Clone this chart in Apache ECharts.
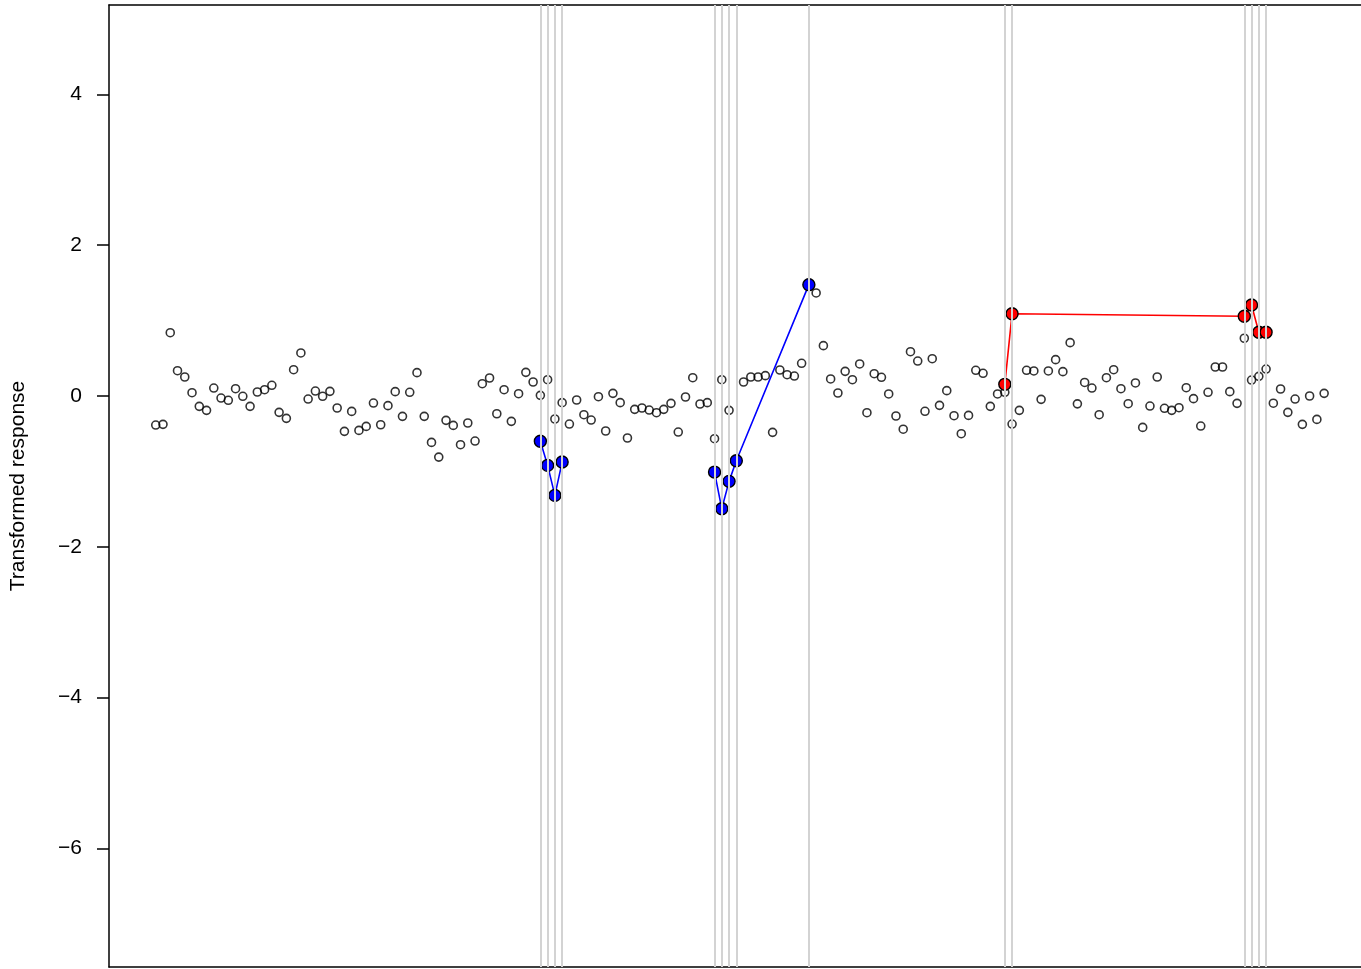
<!DOCTYPE html>
<html>
<head>
<meta charset="utf-8">
<script src="https://cdn.jsdelivr.net/npm/echarts@6/dist/echarts.min.js"></script>
<style>
html,body{margin:0;padding:0;background:#fff;}
#chart{width:1361px;height:969px;}
</style>
</head>
<body>
<div id="chart"></div>
<script>
// Transformed response for each observation index 1..162 (open black circles)
const responseValues = [
 -0.385,-0.376,0.84,0.336,0.252,0.044,-0.137,-0.19,0.106,-0.027,
 -0.057,0.097,-0.004,-0.137,0.053,0.084,0.142,-0.217,-0.296,0.349,
 0.571,-0.04,0.066,-0.004,0.062,-0.159,-0.469,-0.204,-0.456,-0.403,
 -0.093,-0.381,-0.128,0.058,-0.27,0.049,0.31,-0.27,-0.615,-0.81,
 -0.323,-0.39,-0.646,-0.358,-0.597,0.163,0.239,-0.235,0.084,-0.336,
 0.031,0.314,0.186,0.009,0.216,-0.305,-0.088,-0.372,-0.053,-0.248,
 -0.319,-0.009,-0.464,0.035,-0.088,-0.557,-0.177,-0.159,-0.186,-0.221,
 -0.177,-0.097,-0.478,-0.013,0.243,-0.106,-0.088,-0.566,0.216,-0.19,
 -0.859,0.186,0.252,0.252,0.27,-0.482,0.345,0.283,0.265,0.434,
 1.496,1.367,0.668,0.226,0.04,0.327,0.216,0.425,-0.221,0.296,
 0.248,0.027,-0.265,-0.44,0.588,0.464,-0.203,0.495,-0.124,0.071,
 -0.261,-0.5,-0.257,0.341,0.301,-0.137,0.027,0.049,-0.372,-0.19,
 0.341,0.332,-0.044,0.332,0.482,0.323,0.708,-0.104,0.18,0.106,
 -0.248,0.243,0.349,0.097,-0.102,0.173,-0.416,-0.133,0.252,-0.163,
 -0.19,-0.155,0.11,-0.035,-0.398,0.049,0.385,0.385,0.058,-0.097,
 0.766,0.212,0.261,0.358,-0.095,0.093,-0.217,-0.04,-0.376,0.0,
 -0.31,0.035
];

// Blue highlighted observations (two connected runs)
const blueRun1Index = [54, 55, 56, 57];
const blueRun1Value = [-0.60, -0.92, -1.318, -0.876];
const blueRun2Index = [78, 79, 80, 81, 91];
const blueRun2Value = [-1.009, -1.496, -1.132, -0.859, 1.477];

// Red highlighted observations (one connected run)
const redIndex = [118, 119, 151, 152, 153, 154];
const redValue = [0.155, 1.092, 1.057, 1.208, 0.845, 0.845];

// Grey vertical reference lines
const refLineIndex = [54, 55, 56, 57, 78, 79, 80, 81, 91, 118, 119, 151, 152, 153, 154];

// Y tick labels
const yTicks = [-6, -4, -2, 0, 2, 4];
const yLabel = 'Transformed response';

const FONT = 'Liberation Sans, Arial, Helvetica, sans-serif';

const blackPts = responseValues.map((v, i) => [i + 1, v]);
const pair = (xs, ys) => xs.map((x, i) => [x, ys[i]]);

const filledSym = (c) => ({
  type: 'line',
  symbol: 'circle',
  symbolSize: 12,
  showSymbol: true,
  itemStyle: { color: c, borderColor: '#000', borderWidth: 1.4 },
  lineStyle: { color: c, width: 1.6 },
  z: 4,
  animation: false,
  silent: true
});

const hiddenAxisParts = {
  axisTick: { show: false }, axisLabel: { show: false }, splitLine: { show: false }
};

const chart = echarts.init(document.getElementById('chart'), null, { renderer: 'canvas' });
chart.setOption({
  animation: false,
  backgroundColor: '#fff',
  grid: { left: 108, top: 5, width: 1253, height: 962, show: false },
  xAxis: [
    Object.assign({
      type: 'value', min: -5.44, max: 167.08, position: 'bottom',
      axisLine: { show: true, onZero: false, lineStyle: { color: '#000', width: 1.5 } }
    }, hiddenAxisParts),
    Object.assign({
      type: 'value', min: -5.44, max: 167.08, position: 'top',
      axisLine: { show: true, onZero: false, lineStyle: { color: '#000', width: 1.5 } }
    }, hiddenAxisParts)
  ],
  yAxis: {
    type: 'value', min: -7.573, max: 5.186, position: 'left',
    name: yLabel, nameLocation: 'middle', nameGap: 80, nameRotate: 90,
    nameTextStyle: { fontFamily: FONT, fontSize: 21, color: '#000' },
    axisLine: { show: true, onZero: false, lineStyle: { color: '#000', width: 1.5 } },
    axisTick: { show: true, length: 12, inside: false, customValues: yTicks,
      lineStyle: { color: '#000', width: 1.5 } },
    axisLabel: { show: true, margin: 27, customValues: yTicks,
      fontFamily: FONT, fontSize: 21, color: '#000',
      formatter: (v) => (v < 0 ? '\u2212' + Math.abs(v) : String(v)) },
    splitLine: { show: false }
  },
  series: [
    {
      type: 'scatter', data: [], z: 1, silent: true,
      markLine: {
        silent: true, symbol: 'none', animation: false,
        label: { show: false },
        lineStyle: { color: '#d3d3d3', width: 2, type: 'solid' },
        data: refLineIndex.map(i => ({ xAxis: i }))
      }
    },
    {
      type: 'scatter', data: blackPts, symbol: 'circle', symbolSize: 8, z: 2, silent: true,
      itemStyle: { color: 'rgba(0,0,0,0)', borderColor: '#000', borderWidth: 1.6 }
    },
    Object.assign(filledSym('#0000ff'), { data: pair(blueRun1Index, blueRun1Value) }),
    Object.assign(filledSym('#0000ff'), { data: pair(blueRun2Index, blueRun2Value) }),
    Object.assign(filledSym('#ff0000'), { data: pair(redIndex, redValue) })
  ]
});
</script>
</body>
</html>
